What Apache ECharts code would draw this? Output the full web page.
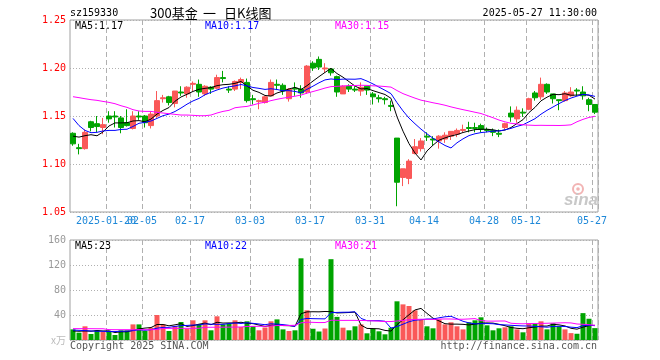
<!DOCTYPE html>
<html><head><meta charset="utf-8">
<script src="https://cdn.jsdelivr.net/npm/echarts@6/dist/echarts.min.js"></script>
<style>html,body{margin:0;padding:0;background:#fff}#c{width:660px;height:360px}</style>
</head><body><div id="c"></div>
<script>
const dates = ['2025-01-10','2025-01-13','2025-01-14','2025-01-15','2025-01-16','2025-01-17','2025-01-20','2025-01-21','2025-01-22','2025-01-23','2025-01-24','2025-01-27',
'2025-02-05','2025-02-06','2025-02-07','2025-02-10','2025-02-11','2025-02-12','2025-02-13','2025-02-14','2025-02-17','2025-02-18','2025-02-19','2025-02-20','2025-02-21','2025-02-24','2025-02-25','2025-02-26','2025-02-27','2025-02-28',
'2025-03-03','2025-03-04','2025-03-05','2025-03-06','2025-03-07','2025-03-10','2025-03-11','2025-03-12','2025-03-13','2025-03-14','2025-03-17','2025-03-18','2025-03-19','2025-03-20','2025-03-21','2025-03-24','2025-03-25','2025-03-26','2025-03-27','2025-03-28','2025-03-31',
'2025-04-01','2025-04-02','2025-04-03','2025-04-07','2025-04-08','2025-04-09','2025-04-10','2025-04-11','2025-04-14','2025-04-15','2025-04-16','2025-04-17','2025-04-18','2025-04-21','2025-04-22','2025-04-23','2025-04-24','2025-04-25','2025-04-28','2025-04-29','2025-04-30',
'2025-05-06','2025-05-07','2025-05-08','2025-05-09','2025-05-12','2025-05-13','2025-05-14','2025-05-15','2025-05-16','2025-05-19','2025-05-20','2025-05-21','2025-05-22','2025-05-23','2025-05-26','2025-05-27'];

const opens = [1.132,1.117,1.116,1.144,1.142,1.138,1.150,1.150,1.148,1.143,
1.137,1.150,1.150,1.140,1.150,1.168,1.170,1.163,1.175,1.173,
1.183,1.183,1.173,1.180,1.179,1.190,1.178,1.178,1.185,1.185,
1.168,1.165,1.164,1.171,1.183,1.182,1.168,1.179,1.178,1.175,
1.205,1.209,1.199,1.199,1.191,1.173,1.181,1.178,1.176,1.181,
1.173,1.169,1.168,1.161,1.127,1.086,1.085,1.111,1.116,1.129,
1.126,1.124,1.126,1.129,1.131,1.135,1.138,1.138,1.140,1.136,
1.135,1.132,1.138,1.153,1.147,1.154,1.157,1.174,1.170,1.183,
1.173,1.167,1.166,1.171,1.177,1.175,1.167,1.162];
const closes = [1.121,1.116,1.133,1.138,1.139,1.141,1.147,1.149,1.138,1.140,
1.150,1.149,1.143,1.152,1.166,1.169,1.164,1.176,1.174,1.180,
1.184,1.175,1.181,1.178,1.190,1.189,1.177,1.186,1.188,1.166,
1.167,1.166,1.170,1.185,1.182,1.176,1.178,1.178,1.174,1.202,
1.200,1.201,1.200,1.195,1.175,1.181,1.178,1.177,1.180,1.177,
1.170,1.168,1.167,1.160,1.081,1.095,1.103,1.118,1.124,1.128,
1.125,1.129,1.130,1.134,1.135,1.136,1.137,1.137,1.136,1.135,
1.133,1.131,1.142,1.149,1.156,1.153,1.168,1.169,1.183,1.175,
1.168,1.166,1.174,1.175,1.176,1.171,1.162,1.154];
const lows = [1.119,1.110,1.115,1.134,1.133,1.131,1.143,1.138,1.132,1.139,
1.136,1.146,1.138,1.137,1.148,1.164,1.161,1.159,1.171,1.169,
1.176,1.170,1.171,1.173,1.178,1.185,1.174,1.176,1.178,1.164,
1.162,1.157,1.163,1.171,1.177,1.172,1.165,1.171,1.169,1.173,
1.197,1.198,1.195,1.192,1.170,1.173,1.175,1.175,1.171,1.172,
1.162,1.164,1.162,1.155,1.056,1.077,1.079,1.110,1.113,1.124,
1.119,1.116,1.122,1.125,1.128,1.133,1.133,1.133,1.133,1.133,
1.129,1.128,1.136,1.144,1.143,1.149,1.156,1.166,1.167,1.173,
1.163,1.156,1.165,1.170,1.171,1.167,1.155,1.152];
const highs = [1.133,1.121,1.136,1.145,1.150,1.148,1.155,1.155,1.150,1.157,
1.155,1.155,1.151,1.155,1.176,1.172,1.171,1.176,1.181,1.181,
1.186,1.188,1.182,1.181,1.193,1.197,1.181,1.187,1.190,1.189,
1.172,1.167,1.171,1.188,1.188,1.184,1.179,1.185,1.182,1.203,
1.207,1.212,1.205,1.200,1.192,1.182,1.183,1.181,1.185,1.181,
1.175,1.172,1.170,1.166,1.127,1.095,1.105,1.126,1.127,1.133,
1.129,1.130,1.133,1.134,1.137,1.141,1.144,1.143,1.142,1.138,
1.137,1.136,1.143,1.160,1.160,1.158,1.169,1.176,1.190,1.184,
1.173,1.167,1.176,1.180,1.179,1.181,1.169,1.162];
const volumes = [17,11.7,21.9,9.6,15.5,13.3,13.3,8,15.5,15.5,
25,25,14.4,19.7,40,25,14.4,22.4,28.8,18.1,
31.5,25.6,31.5,15.5,37.9,25,26.7,31.5,20.8,29.9,
22,15.5,20,29.9,33,17,14.4,15.5,130.7,47.5,
18,13.6,18.4,129.3,37,19.7,15.5,21.9,25,10.7,
18.1,13.9,9.1,19.7,61.9,57,54.4,47.5,32,21.9,
18.7,33,25,28.3,21.9,17,28.3,31.5,36.3,23.5,
15.5,18.7,20.3,21.9,17,12.3,26.7,25.6,29.9,17,
26.7,21.9,17,11,10,43,34,19];

// MA values before enough history is visible
const ma5Head = [1.129,1.128,1.1295,1.1305];
const ma10Head = [1.1475,1.140,1.135,1.1326,1.133,1.1344,1.135,1.135,1.136];
const ma30Head = [1.1701,1.1691,1.168,1.167,1.1663,1.1652,1.1642,1.1628,1.1607,1.159,
1.1566,1.1552,1.1548,1.1548,1.1538,1.1531,1.1524,1.1517,1.151,1.151,
1.1507,1.1503,1.1503,1.151,1.1531,1.1548,1.1559,1.1586,1.1594];
const vma5Head = [14.5,14,14.5,14];
const vma10Head = [16,15.5,15,14.5,14,14,13.5,13.5,14];
const vma30Head = [18.2,18.2,18.1,18.1,18,18,16.6,16.5,16.5,16.5,
16.4,16.5,16.5,16.6,16.8,18.5,18.6,18.7,18.7,18.7,
18.8,18.8,20.3,20.4,20.5,20.5,20.6,20.7,20.8];

const tickDates = ['2025-01-20','2025-02-05','2025-02-17','2025-03-03','2025-03-17','2025-03-31','2025-04-14','2025-04-28','2025-05-12','2025-05-27'];
const tickTexts = ['2025-01-20','02-05','02-17','03-03','03-17','03-31','04-14','04-28','05-12','05-27'];
const priceTicks = {min:1.05, max:1.25, step:0.05};
const volTicks = {min:0, max:160, step:40};
const mainLegend = ['MA5:1.17','MA10:1.17','MA30:1.15'];
const volLegend = ['MA5:23','MA10:22','MA30:21'];
const headerCode = 'sz159330';
const headerTitle = ['300基金', '一', '日K线图'];
const headerTime = '2025-05-27 11:30:00';

function movingAvg(vals, n, head) {
  return vals.map((v, i) => {
    if (i < n - 1) return head[i];
    let s = 0; for (let k = i - n + 1; k <= i; k++) s += vals[k];
    return +(s / n).toFixed(4);
  });
}
const RED = '#fa5858', GREEN = '#00a400';
const MONO = 'DejaVu Sans Mono';
const CJK = '"Noto Sans CJK SC"';
const isTick = (idx, val) => tickDates.indexOf(val) >= 0;
const isLaterTick = (idx, val) => tickDates.indexOf(val) > 0;
const isFirstTick = (idx, val) => val === tickDates[0];
const kdata = dates.map((d, i) => [opens[i], closes[i], lows[i], highs[i]]);

const chart = echarts.init(document.getElementById('c'), null, {renderer: 'canvas'});
const labelStyle = {color: '#1e88d8', fontFamily: MONO, fontSize: 10, margin: 4, padding: [0, 6, 0, 0],
  hideOverlap: false, showMinLabel: true, showMaxLabel: true,
  formatter: v => tickTexts[tickDates.indexOf(v)] || ''};
const xCommon = (gi, showLabel) => ({
  type: 'category', gridIndex: gi, data: dates, boundaryGap: true, position: 'bottom',
  axisLine: {show: false}, axisTick: {show: false, interval: isTick},
  axisLabel: Object.assign({show: showLabel, interval: isLaterTick}, labelStyle),
  splitLine: {show: true, interval: isTick, lineStyle: {color: '#b0b0b0', type: [5, 3], width: 1}}
});
const legendEls = (arr, y) => arr.map((t, k) => ({
  type: 'text', x: [75, 205, 335][k], y: y, z: 100,
  style: {text: t, fill: ['#000', '#0000ff', '#ff00ff'][k], font: '10px ' + MONO, align: 'left', verticalAlign: 'middle'}
}));

chart.setOption({
  animation: false,
  grid: [
    {left: 70, top: 20, width: 528, height: 192, show: true, borderColor: '#a0a0a0', borderWidth: 1, backgroundColor: 'transparent'},
    {left: 70, top: 240, width: 528, height: 100, show: true, borderColor: '#a0a0a0', borderWidth: 1, backgroundColor: 'transparent'}
  ],
  xAxis: [
    xCommon(0, true),
    xCommon(1, false),
    {type: 'category', gridIndex: 0, data: dates, boundaryGap: true, position: 'bottom', z: -1,
     axisLine: {show: false}, axisTick: {show: false}, splitLine: {show: false},
     axisLabel: Object.assign({interval: isFirstTick}, labelStyle)}
  ],
  yAxis: [
    {type: 'value', gridIndex: 0, min: priceTicks.min, max: priceTicks.max, interval: priceTicks.step, scale: true,
     axisLine: {show: false}, axisTick: {show: false},
     axisLabel: {color: '#ff0000', fontFamily: MONO, fontSize: 10, margin: 4, formatter: v => v.toFixed(2)},
     splitLine: {show: true, lineStyle: {color: '#b0b0b0', type: [1, 2]}}},
    {type: 'value', gridIndex: 1, min: volTicks.min, max: volTicks.max, interval: volTicks.step,
     axisLine: {show: false}, axisTick: {show: false},
     axisLabel: {color: '#999', fontFamily: MONO, fontSize: 10, margin: 4,
       formatter: v => v === 0 ? '{u|x万}' : String(v),
       rich: {u: {color: '#bbb', fontSize: 10, fontFamily: CJK}}},
     splitLine: {show: true, lineStyle: {color: '#b0b0b0', type: [1, 2]}}}
  ],
  series: [
    {type: 'candlestick', xAxisIndex: 0, yAxisIndex: 0, data: kdata, barWidth: 5,
     itemStyle: {color: RED, color0: GREEN, borderColor: RED, borderColor0: GREEN, borderWidth: 1}},
    {type: 'line', xAxisIndex: 0, yAxisIndex: 0, data: movingAvg(closes, 5, ma5Head), symbol: 'none', lineStyle: {color: '#000', width: 1}, z: 5},
    {type: 'line', xAxisIndex: 0, yAxisIndex: 0, data: movingAvg(closes, 10, ma10Head), symbol: 'none', lineStyle: {color: '#0000ff', width: 1}, z: 5},
    {type: 'line', xAxisIndex: 0, yAxisIndex: 0, data: movingAvg(closes, 30, ma30Head), symbol: 'none', lineStyle: {color: '#ff00ff', width: 1}, z: 5},
    {type: 'bar', xAxisIndex: 1, yAxisIndex: 1, data: volumes, barWidth: 5,
     itemStyle: {color: p => closes[p.dataIndex] >= opens[p.dataIndex] ? RED : GREEN}},
    {type: 'line', xAxisIndex: 1, yAxisIndex: 1, data: movingAvg(volumes, 5, vma5Head), symbol: 'none', lineStyle: {color: '#000', width: 1}, z: 5},
    {type: 'line', xAxisIndex: 1, yAxisIndex: 1, data: movingAvg(volumes, 10, vma10Head), symbol: 'none', lineStyle: {color: '#0000ff', width: 1}, z: 5},
    {type: 'line', xAxisIndex: 1, yAxisIndex: 1, data: movingAvg(volumes, 30, vma30Head), symbol: 'none', lineStyle: {color: '#ff00ff', width: 1}, z: 5}
  ],
  graphic: [
    {type: 'text', x: 70, y: 13, style: {text: headerCode, fill: '#000', font: '10px ' + MONO, verticalAlign: 'middle'}},
    {type: 'text', x: 150, y: 13, style: {text: headerTitle[0], fill: '#000', font: '13px ' + CJK, verticalAlign: 'middle'}},
    {type: 'text', x: 203, y: 13, style: {text: headerTitle[1], fill: '#000', font: '13px ' + CJK, verticalAlign: 'middle'}},
    {type: 'text', x: 224, y: 13, style: {text: headerTitle[2], fill: '#000', font: '13px ' + CJK, verticalAlign: 'middle'}},
    {type: 'text', x: 597, y: 13, style: {text: headerTime, fill: '#000', font: '10px ' + MONO, align: 'right', verticalAlign: 'middle'}},
    ...legendEls(mainLegend, 26.5),
    ...legendEls(volLegend, 246.5),
    {type: 'text', x: 70, y: 346, style: {text: 'Copyright 2025 SINA.COM', fill: '#555', font: '10px ' + MONO, verticalAlign: 'middle'}},
    {type: 'text', x: 597, y: 346, style: {text: 'http://finance.sina.com.cn', fill: '#555', font: '10px ' + MONO, align: 'right', verticalAlign: 'middle'}},
    {type: 'circle', shape: {cx: 578, cy: 189, r: 5}, style: {fill: 'none', stroke: '#f2b4b4', lineWidth: 2}, z: 1},
    {type: 'circle', shape: {cx: 578, cy: 189, r: 1.8}, style: {fill: '#f2b4b4'}, z: 1},
    {type: 'text', x: 581, y: 200, z: 1, style: {text: 'sina', fill: '#c8c8c8', font: 'italic bold 17px "Liberation Sans"', align: 'center', verticalAlign: 'middle'}}
  ]
});
</script></body></html>
